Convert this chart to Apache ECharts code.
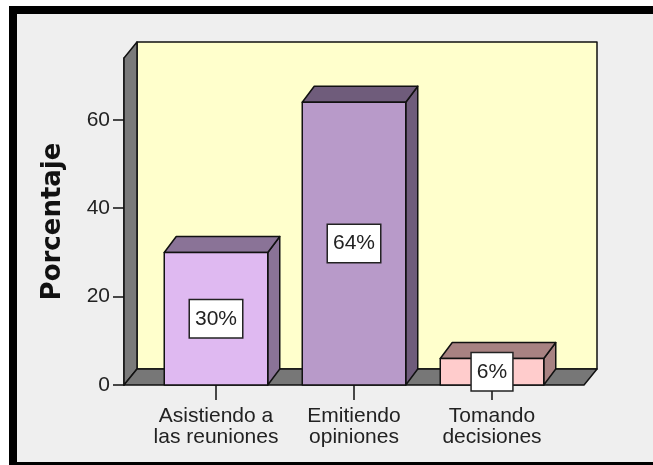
<!DOCTYPE html>
<html>
<head>
<meta charset="utf-8">
<script src="https://cdn.jsdelivr.net/npm/echarts@6/dist/echarts.min.js"></script>
<style>
html, body { margin: 0; padding: 0; background: #fff; overflow: hidden; }
#chart { width: 653px; height: 465px; }
</style>
</head>
<body>
<div id="chart"></div>
<script>
var categories = ["Asistiendo a\nlas reuniones", "Emitiendo\nopiniones", "Tomando\ndecisiones"];
var percentages = [30, 64, 6];
var barLabels = ["30%", "64%", "6%"];
var frontColors = ["#dfb9f1", "#b89ac9", "#ffcccc"];
var shadeColors = ["#8a7397", "#6f5c7b", "#a88282"];
var yMax = 74;
var yStep = 20;

// 3d depth of the box walls and of the bars
var DX = 13, DY = 16;
var BDX = 12, BDY = 16;
var PAD = 23; // floor sticks out past the category band
var edge = { stroke: "#111", lineWidth: 1.5, lineJoin: "round" };

function st(extra) {
  return Object.assign({}, edge, extra);
}

function renderWalls(params, api) {
  var cs = params.coordSys;
  var x0 = cs.x - PAD, x1 = cs.x + cs.width + PAD;
  var yT = cs.y, yB = cs.y + cs.height;
  return {
    type: "group",
    children: [
      { type: "rect", shape: { x: x0 + DX, y: yT - DY, width: x1 - x0, height: yB - yT }, style: st({ fill: "#ffffcc" }) },
      { type: "polygon", shape: { points: [[x0, yT], [x0 + DX, yT - DY], [x0 + DX, yB - DY], [x0, yB]] }, style: st({ fill: "#7a7a7a" }) },
      { type: "polygon", shape: { points: [[x0, yB], [x0 + DX, yB - DY], [x1 + DX, yB - DY], [x1, yB]] }, style: st({ fill: "#777777" }) }
    ]
  };
}

function renderBar(params, api) {
  var i = api.value(0);
  var v = api.value(1);
  var base = api.coord([i, 0]);
  var top = api.coord([i, v]);
  var mid = api.coord([i, v / 2]);
  var w = api.size([1, 0])[0] * 0.75;
  var xl = base[0] - w / 2, xr = base[0] + w / 2;
  var yt = top[1], yb = base[1];
  return {
    type: "group",
    children: [
      { type: "polygon", shape: { points: [[xr, yt], [xr + BDX, yt - BDY], [xr + BDX, yb - BDY], [xr, yb]] }, style: st({ fill: shadeColors[i] }) },
      { type: "polygon", shape: { points: [[xl, yt], [xl + BDX, yt - BDY], [xr + BDX, yt - BDY], [xr, yt]] }, style: st({ fill: shadeColors[i] }) },
      { type: "rect", shape: { x: xl, y: yt, width: w, height: yb - yt }, style: st({ fill: frontColors[i] }) },
      {
        type: "text",
        x: base[0],
        y: mid[1],
        z2: 10,
        style: {
          text: barLabels[i],
          font: "21px 'Liberation Sans', Arial, sans-serif",
          fill: "#222",
          align: "center",
          verticalAlign: "middle",
          backgroundColor: "#fff",
          borderColor: "#222",
          borderWidth: 1.5,
          padding: [8, 5, 8, 5]
        }
      }
    ]
  };
}

var chart = echarts.init(document.getElementById("chart"));
var option = {
  backgroundColor: "#fff",
  animation: false,
  graphic: [
    { type: "rect", z: -2, shape: { x: 9, y: 6, width: 700, height: 470 }, style: { fill: "#000" } },
    { type: "rect", z: -1, shape: { x: 17, y: 14, width: 700, height: 448 }, style: { fill: "#efefef" } }
  ],
  grid: { left: 147, right: 92, top: 58, bottom: 80 },
  xAxis: {
    type: "category",
    data: categories,
    boundaryGap: true,
    axisLine: { show: false },
    axisTick: { show: true, alignWithLabel: true, length: 15, lineStyle: { color: "#111", width: 1.5 } },
    axisLabel: {
      interval: 0,
      margin: 21,
      color: "#222",
      fontSize: 21,
      lineHeight: 21,
      fontFamily: "'Liberation Sans', Arial, sans-serif"
    },
    splitLine: { show: false }
  },
  yAxis: {
    type: "value",
    min: 0,
    max: yMax,
    interval: yStep,
    offset: PAD,
    name: "Porcentaje",
    nameLocation: "middle",
    nameGap: 58,
    nameTextStyle: { color: "#111", fontSize: 26, fontWeight: "bold", fontFamily: "'DejaVu Sans', Verdana, sans-serif" },
    axisLine: { show: true, lineStyle: { color: "#111", width: 1.5 } },
    axisTick: { show: true, length: 11, lineStyle: { color: "#111", width: 1.5 } },
    axisLabel: {
      margin: 14,
      color: "#222",
      fontSize: 21,
      fontFamily: "'Liberation Sans', Arial, sans-serif",
      showMaxLabel: false
    },
    splitLine: { show: false }
  },
  series: [
    {
      type: "custom",
      clip: false,
      z: 1,
      renderItem: renderWalls,
      data: [[0, 0]],
      encode: { x: 0, y: 1 },
      silent: true
    },
    {
      type: "custom",
      clip: false,
      z: 2,
      renderItem: renderBar,
      data: percentages.map(function (p, i) { return [i, p]; }),
      encode: { x: 0, y: 1 }
    }
  ]
};
chart.setOption(option);
</script>
</body>
</html>
